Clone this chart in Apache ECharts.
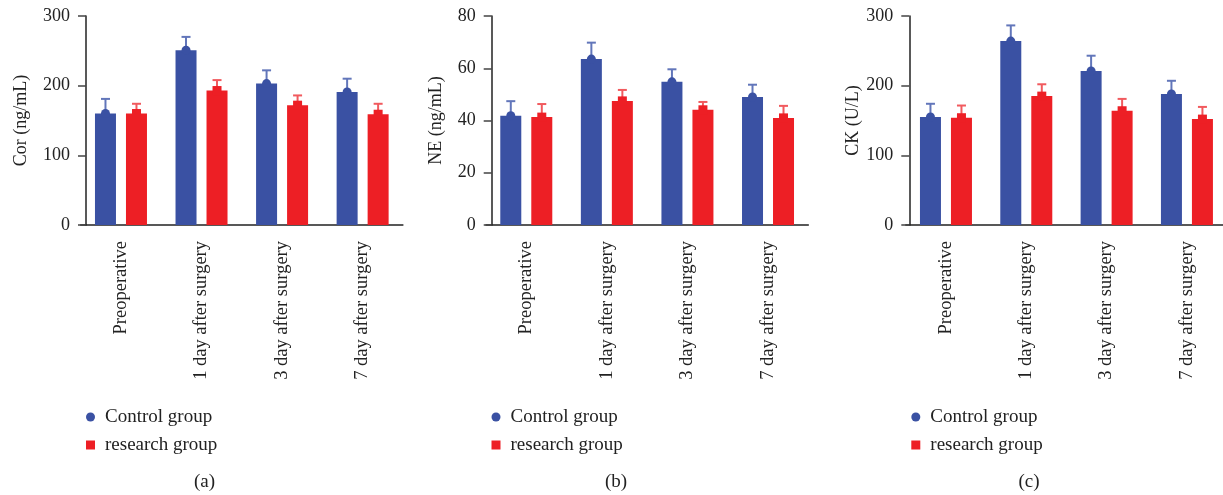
<!DOCTYPE html>
<html>
<head>
<meta charset="utf-8">
<script src="https://cdn.jsdelivr.net/npm/echarts@6/dist/echarts.min.js"></script>
<style>
html,body{margin:0;padding:0;background:#fff;}
#chart{width:1223px;height:495px;}
</style>
</head>
<body>
<div id="chart"></div>
<script>
// ---- data ----
const categories = ['Preoperative', '1 day after surgery', '3 day after surgery', '7 day after surgery'];
const seriesNames = ['Control group', 'research group'];

const corControl = [160, 251, 203, 191];
const corControlSD = [21, 19, 19, 19];
const corResearch = [160, 193, 172, 159];
const corResearchSD = [14, 15, 14, 15];

const neControl = [41.8, 63.5, 54.8, 49];
const neControlSD = [5.6, 6.3, 4.8, 4.7];
const neResearch = [41.3, 47.5, 44.1, 41];
const neResearchSD = [5.0, 4.2, 3.0, 4.6];

const ckControl = [155, 264, 221, 188];
const ckControlSD = [19, 22.5, 22, 19];
const ckResearch = [154, 185, 164, 152];
const ckResearchSD = [17.5, 17, 17, 17.5];

const yNames = ['Cor (ng/mL)', 'NE (ng/mL)', 'CK (U/L)'];
const yMax = [300, 80, 300];
const yInterval = [100, 20, 100];
const captions = ['(a)', '(b)', '(c)'];

// ---- style ----
const FONT = 'Liberation Serif';
const BLUE = '#3A51A3', RED = '#ED1F25';
const BLUE_ERR = '#6276BA', RED_ERR = '#F15A5E';
const BAR_W = 21, BAR_GAP = 10, CAP_W = 9, MARK = 9;
const OFF = (BAR_W + BAR_GAP) / 2;

const panels = [
  {left: 80.7, width: 322.2, yOff: -5.3, nameGap: 56, ctrl: corControl, ctrlSD: corControlSD, res: corResearch, resSD: corResearchSD, legLeft: 86, cap: 204.5},
  {left: 486.0, width: 322.3, yOff: -5.7, nameGap: 46, ctrl: neControl, ctrlSD: neControlSD, res: neResearch, resSD: neResearchSD, legLeft: 491.5, cap: 616},
  {left: 905.8, width: 321.3, yOff: -3.5, nameGap: 46, ctrl: ckControl, ctrlSD: ckControlSD, res: ckResearch, resSD: ckResearchSD, legLeft: 911.3, cap: 1029}
];

function errRenderer(offsetPx) {
  return function (params, api) {
    const x = api.value(0), m = api.value(1), sd = api.value(2);
    const base = api.coord([x, m]);
    const top = api.coord([x, m + sd]);
    const cx = base[0] + offsetPx;
    const st = {stroke: api.visual('color'), lineWidth: 2};
    return {
      type: 'group',
      children: [
        {type: 'line', shape: {x1: cx, y1: base[1], x2: cx, y2: top[1]}, style: st},
        {type: 'line', shape: {x1: cx - CAP_W / 2, y1: top[1], x2: cx + CAP_W / 2, y2: top[1]}, style: st}
      ]
    };
  };
}

const grid = [], xAxis = [], yAxis = [], series = [], legend = [], title = [];
panels.forEach((p, i) => {
  grid.push({left: p.left, width: p.width, top: 16, height: 209, containLabel: false, outerBoundsMode: 'none'});
  xAxis.push({
    type: 'category', gridIndex: i, data: categories, boundaryGap: true,
    axisLine: {lineStyle: {color: '#222', width: 1.5}},
    axisTick: {alignWithLabel: true, length: 8, lineStyle: {color: '#444', width: 1.5}},
    axisLabel: {rotate: 90, interval: 0, margin: 16, color: '#222', fontFamily: FONT, fontSize: 18.5}
  });
  yAxis.push({
    type: 'value', gridIndex: i, min: 0, max: yMax[i], interval: yInterval[i], offset: p.yOff,
    name: yNames[i], nameLocation: 'middle', nameGap: p.nameGap, nameRotate: 90,
    nameTextStyle: {color: '#222', fontFamily: FONT, fontSize: 18},
    axisLine: {show: true, lineStyle: {color: '#222', width: 1.5}},
    axisTick: {show: true, length: 8, lineStyle: {color: '#444', width: 1.5}},
    axisLabel: {margin: 16, color: '#222', fontFamily: FONT, fontSize: 18},
    splitLine: {show: false}
  });
  const sets = [
    {name: seriesNames[0], vals: p.ctrl, sd: p.ctrlSD, color: BLUE, err: BLUE_ERR, off: -OFF, sym: 'circle'},
    {name: seriesNames[1], vals: p.res, sd: p.resSD, color: RED, err: RED_ERR, off: OFF, sym: 'rect'}
  ];
  sets.forEach(s => {
    series.push({
      type: 'bar', name: s.name, xAxisIndex: i, yAxisIndex: i, data: s.vals,
      barWidth: BAR_W, barGap: (BAR_GAP / BAR_W * 100) + '%', itemStyle: {color: s.color}, z: 2,
      silent: true
    });
  });
  sets.forEach(s => {
    series.push({
      type: 'custom', name: s.name + ' SD', xAxisIndex: i, yAxisIndex: i,
      data: s.vals.map((v, k) => [k, v, s.sd[k]]),
      renderItem: errRenderer(s.off), itemStyle: {color: s.err}, z: 3, silent: true,
      encode: {x: 0, y: 1}
    });
  });
  sets.forEach(s => {
    series.push({
      type: 'scatter', name: s.name, xAxisIndex: i, yAxisIndex: i,
      data: s.vals.map((v, k) => [k, v]),
      symbol: s.sym, symbolSize: MARK, symbolOffset: [s.off, 0],
      itemStyle: {color: s.color, opacity: 1}, z: 4, silent: true
    });
  });
  legend.push({
    orient: 'vertical', left: p.legLeft, top: 407.5, itemWidth: 9, itemHeight: 9, itemGap: 9,
    selectedMode: false, padding: 0,
    textStyle: {color: '#222', fontFamily: FONT, fontSize: 19, lineHeight: 18, padding: [0, 0, 0, 5]},
    data: [{name: seriesNames[0], icon: 'circle'}, {name: seriesNames[1], icon: 'rect'}]
  });
  title.push({
    text: captions[i], left: p.cap, top: 473, textAlign: 'center', padding: 0,
    textStyle: {color: '#222', fontFamily: FONT, fontSize: 19, fontWeight: 'normal'}
  });
});

const chart = echarts.init(document.getElementById('chart'), null, {renderer: 'canvas'});
chart.setOption({
  animation: false,
  backgroundColor: '#fff',
  title, grid, xAxis, yAxis, legend, series
});
</script>
</body>
</html>
